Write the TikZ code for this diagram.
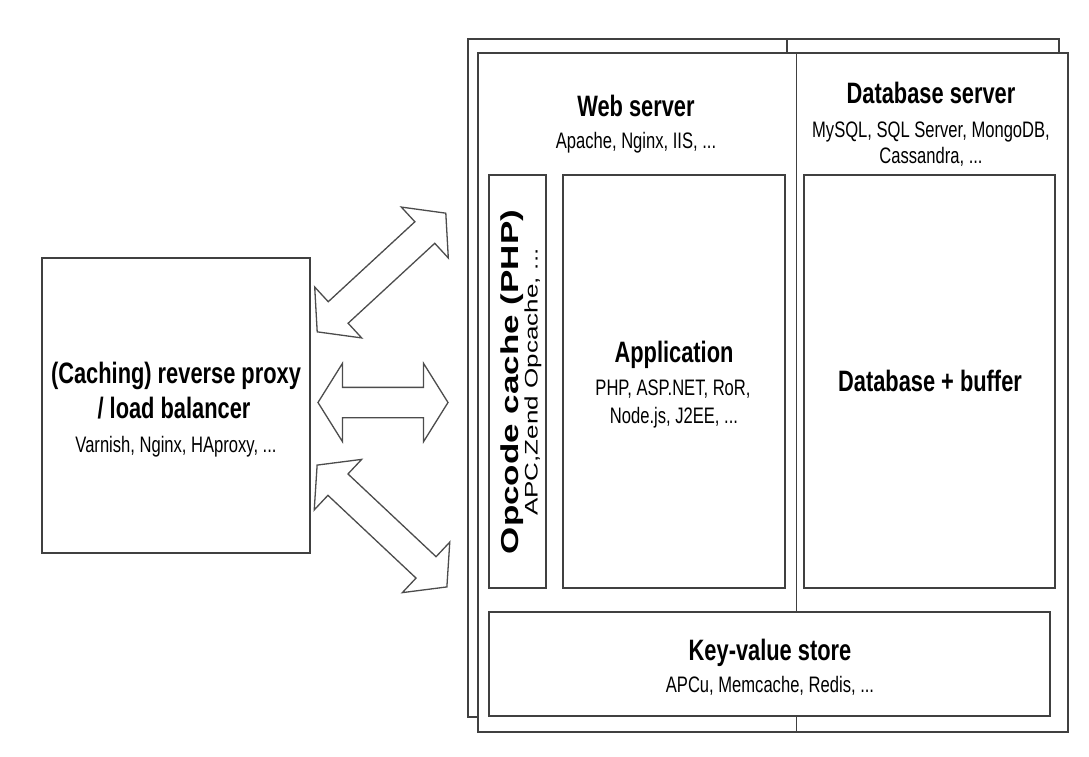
\documentclass[tikz,border=0pt]{standalone}
\usepackage{fontspec}
\setmainfont{Liberation Sans}[FakeStretch=0.74]
\newfontfamily\widefont{Liberation Sans}
\usetikzlibrary{shapes.arrows}

\newcommand{\boxtitle}{\fontsize{29.5}{34}\selectfont\bfseries}
\newcommand{\boxsub}{\fontsize{22.4}{26}\selectfont}

\begin{document}
\begin{tikzpicture}[x=1pt,y=-1pt,
  box/.style={draw=black!75, line width=1.8pt, fill=white, inner sep=0pt},
  txt/.style={anchor=base, inner sep=0pt},
  vtxt/.style={anchor=base, inner sep=0pt, rotate=90},
  dblarrow/.style={double arrow, draw=black!70, line width=1.3pt, fill=white,
    inner sep=0pt, inner ysep=14pt}]
\useasboundingbox (0,0) rectangle (1089,756);

% server stack (back sheet, front sheet)
\node[box, minimum width=591pt, minimum height=678pt] (back) at (763.5,378) {};
\draw[black!75, line width=1.8pt] (787,39) -- (787,53);
\node[box, minimum width=590pt, minimum height=679pt] (front) at (773,392.5) {};
\draw[black!75, line width=1.8pt] (796.5,53) -- (796.5,732);

\node[txt] (websrv) at (636,116) {\boxtitle Web server};
\node[txt] (websrvsub) at (636,148) {\boxsub Apache, Nginx, IIS, ...};
\node[txt] (dbsrv) at (931,103) {\boxtitle Database server};
\node[txt] (dbsrvsub) at (931,137) {\boxsub MySQL, SQL Server, MongoDB,};
\node[txt] (dbsrvsub2) at (931,163) {\boxsub Cassandra, ...};

% inner boxes
\node[box, minimum width=57pt, minimum height=413pt] (opcode) at (517.5,381.5) {};
\node[box, minimum width=222pt, minimum height=413pt] (app) at (674,381.5) {};
\node[box, minimum width=251pt, minimum height=413pt] (db) at (929.5,381.5) {};
\node[box, minimum width=561pt, minimum height=104pt] (kv) at (769.5,664) {};

\node[vtxt] (opcodetxt) at (518,382) {\scalebox{1}[0.7]{\widefont\fontsize{35}{40}\selectfont\bfseries Opcode cache (PHP)}};
\node[vtxt] (opcodesub) at (537.5,382) {\scalebox{1}[0.7]{\widefont\fontsize{26}{30}\selectfont APC,Zend Opcache, ...}};

\node[txt] (apptxt) at (674,362) {\boxtitle Application};
\node[txt] (appsub) at (673,395) {\boxsub PHP, ASP.NET, RoR,};
\node[txt] (appsub2) at (674,423) {\boxsub Node.js, J2EE, ...};

\node[txt] (dbtxt) at (930,391) {\boxtitle Database + buffer};

\node[txt] (kvtxt) at (770,660) {\boxtitle Key-value store};
\node[txt] (kvsub) at (770,692) {\boxsub APCu, Memcache, Redis, ...};

% proxy
\node[box, minimum width=268pt, minimum height=295pt] (proxy) at (176,405.5) {};
\node[txt] (proxytxt) at (176,383) {\boxtitle (Caching) reverse proxy};
\node[txt] (proxytxt2) at (174,418) {\boxtitle / load balancer};
\node[txt] (proxysub) at (176,452) {\boxsub Varnish, Nginx, HAproxy, ...};

% arrows
\node[dblarrow, minimum height=175pt, double arrow head extend=20pt,
  double arrow tip angle=101, rotate=42.7] (arr1) at (381.5,272.5) {};
\node[dblarrow, minimum height=130pt, inner ysep=14.5pt, double arrow head extend=24pt,
  double arrow tip angle=116] (arr2) at (383,402.5) {};
\node[dblarrow, minimum height=178pt, double arrow head extend=20pt,
  double arrow tip angle=101, rotate=-43.2] (arr3) at (382,526) {};
\end{tikzpicture}
\end{document}
